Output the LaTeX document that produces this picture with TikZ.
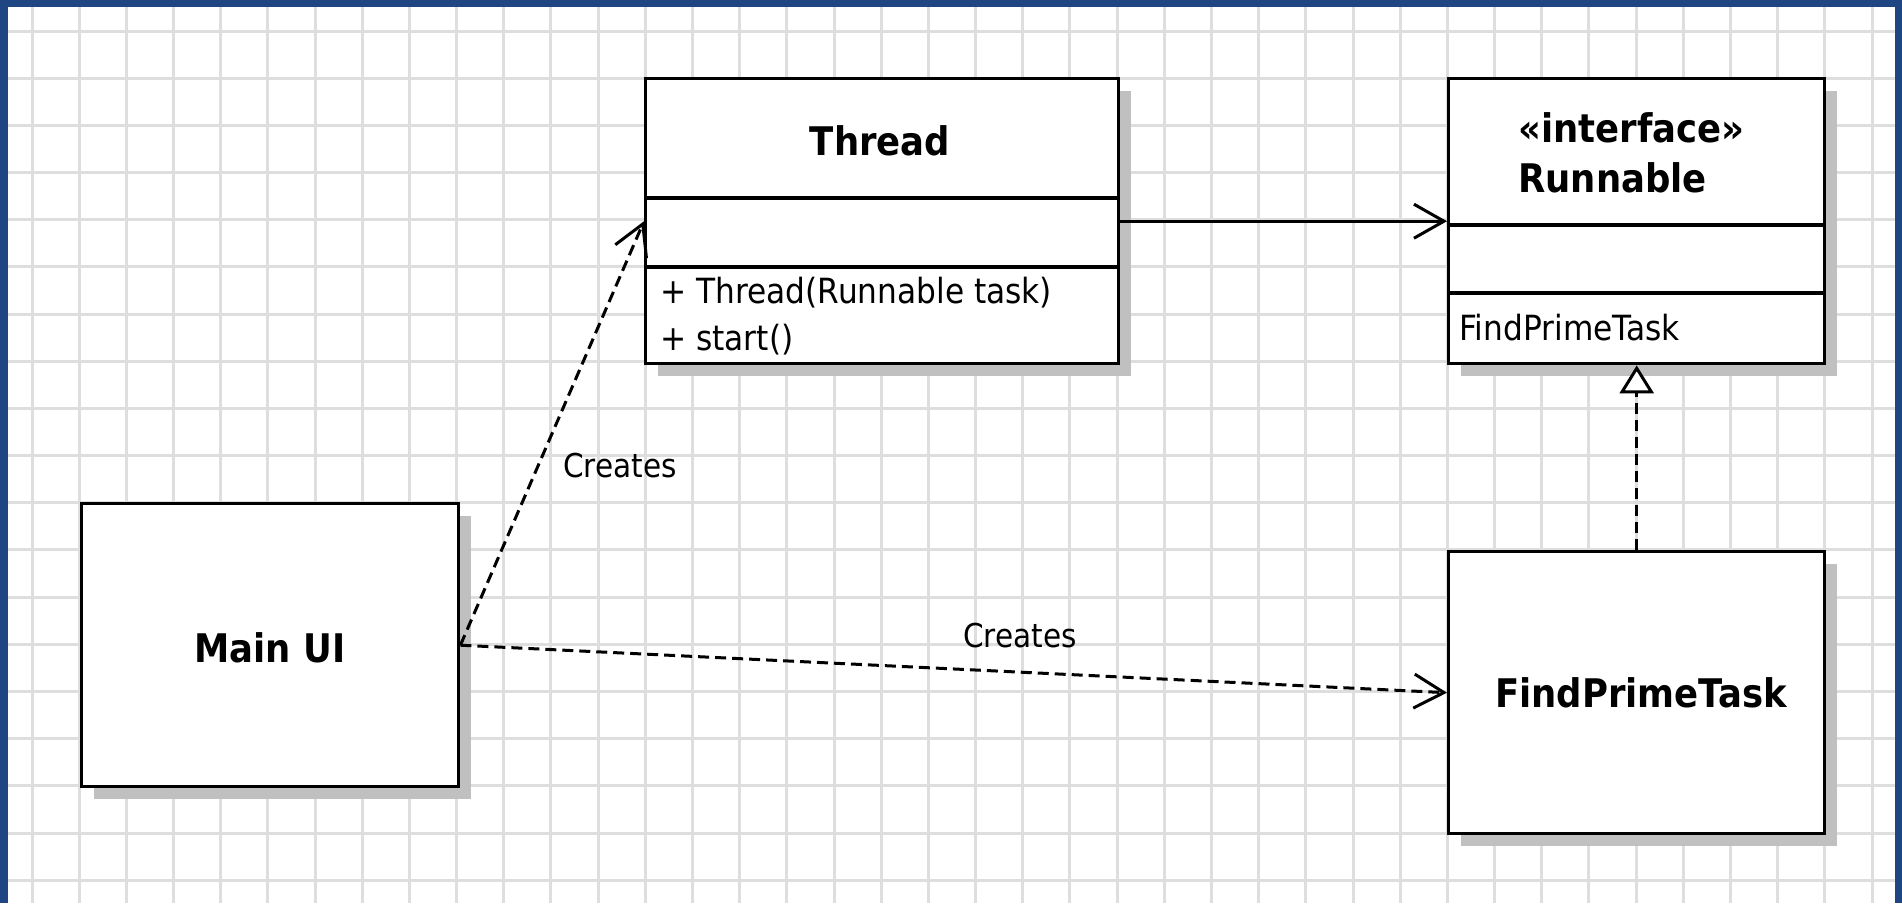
\documentclass[tikz,border=0pt]{standalone}
\usepackage{fontspec}
\usetikzlibrary{arrows.meta,shadows}
\newfontfamily\umlfont[FakeStretch=0.9]{DejaVu Sans}
\definecolor{frameblue}{HTML}{1F4682}
\definecolor{gridgray}{HTML}{DEDEDE}
\definecolor{shadowgray}{HTML}{C0C0C0}

\tikzset{
  gridline/.style={gridgray, line width=3pt},
  umlbox/.style={rectangle, draw=black, line width=3.4pt, fill=white, inner sep=0pt,
    anchor=north west,
    drop shadow={shadow xshift=12pt, shadow yshift=-12pt, fill=shadowgray, opacity=1}},
  divider/.style={line width=3.2pt},
  plaintext/.style={inner sep=0pt, font=\umlfont\fontsize{34.7}{40}\selectfont},
  boldtext/.style={inner sep=0pt, font=\umlfont\bfseries\fontsize{39.4}{50}\selectfont},
  edgelabel/.style={inner sep=0pt, font=\umlfont\fontsize{32.8}{40}\selectfont},
  association/.style={line width=3pt, -{Straight Barb[length=30pt, width=34pt]}},
  dependency/.style={line width=3pt, dash pattern=on 11pt off 6pt,
    -{Straight Barb[length=30pt, width=34pt]}},
  realization/.style={line width=3pt, dash pattern=on 11pt off 6pt,
    -{Triangle[open, length=28pt, width=34pt, fill=white]}},
}

\begin{document}
\begin{tikzpicture}[x=1pt, y=-1pt]
  \useasboundingbox (0,0) rectangle (1902,903);
  \fill[white] (0,0) rectangle (1902,903);

  % drawing grid
  \foreach \i in {0,...,39}
    \draw[gridline] ({32+47.18*\i},7) -- ({32+47.18*\i},903);
  \foreach \j in {0,...,18}
    \draw[gridline] (8,{31+47.18*\j}) -- (1895,{31+47.18*\j});

  % window frame
  \fill[frameblue] (0,0) rectangle (8,903);
  \fill[frameblue] (0,0) rectangle (1902,7);
  \fill[frameblue] (1895,0) rectangle (1902,903);

  % class boxes
  \node[umlbox, minimum width=473pt, minimum height=285pt] (thread) at (644,77) {};
  \node[umlbox, minimum width=376pt, minimum height=285pt] (runnable) at (1447,77) {};
  \node[umlbox, minimum width=377pt, minimum height=283pt] (mainui) at (80,502) {};
  \node[umlbox, minimum width=376pt, minimum height=282pt] (findtask) at (1447,550) {};

  % compartments
  \draw[divider] (thread.west |- 0,198) -- (thread.east |- 0,198);
  \draw[divider] (thread.west |- 0,267) -- (thread.east |- 0,267);
  \draw[divider] (runnable.west |- 0,225) -- (runnable.east |- 0,225);
  \draw[divider] (runnable.west |- 0,293) -- (runnable.east |- 0,293);

  % texts
  \node[boldtext, anchor=base] (threadname) at (880,155) {Thread};
  \node[plaintext, anchor=base west] (threadop1) at (660,303) {+ Thread(Runnable task)};
  \node[plaintext, anchor=base west] (threadop2) at (660,350) {+ start()};
  \node[boldtext, anchor=base west] (stereo) at (1518,142) {«interface»};
  \node[boldtext, anchor=base west] (runnablename) at (1518,192) {Runnable};
  \node[plaintext, anchor=base west] (implementor) at (1459,340) {FindPrimeTask};
  \node[boldtext, anchor=base] (mainuiname) at (270,662) {Main UI};
  \node[boldtext, anchor=base] (findtaskname) at (1641,707) {FindPrimeTask};

  % connectors
  \draw[association] (thread.east) -- (runnable.west |- thread.east);
  \draw[dependency] (mainui.east) -- (thread.west);
  \draw[dependency] (mainui.east) -- (findtask.west);
  \draw[realization] (findtask.north) -- (runnable.south);

  % connector labels
  \node[edgelabel, anchor=base west] (createsthread) at (563,477) {Creates};
  \node[edgelabel, anchor=base west] (createstask) at (963,647) {Creates};
\end{tikzpicture}
\end{document}
